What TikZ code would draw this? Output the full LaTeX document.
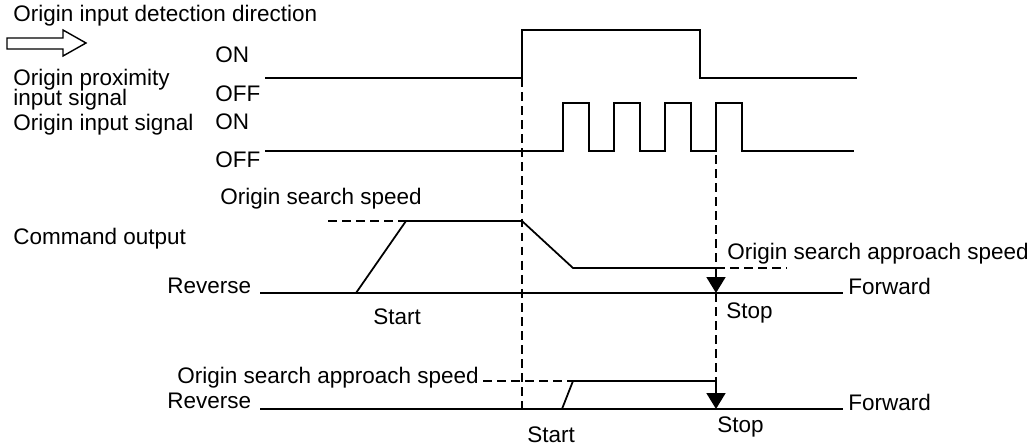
\documentclass[tikz,border=0pt]{standalone}
\usepackage{fontspec}
\setmainfont{Liberation Sans}
\usetikzlibrary{arrows.meta}

\begin{document}
\begin{tikzpicture}[
  x=0.02cm, y=-0.02cm,
  lbl/.style={font=\fontsize{12.8}{15}\selectfont, inner sep=0pt, anchor=base west},
  sig/.style={line width=1pt},
  guide/.style={line width=1pt, dash pattern=on 5pt off 3pt},
  stoparrow/.style={line width=1pt, -{Triangle[length=0.32cm,width=0.38cm]}}
]
  \useasboundingbox (0,0) rectangle (1036,446);

  % Detection direction
  \node[lbl] (dirlbl) at (13,22) {Origin input detection direction};
  \draw[line width=0.8pt] (7,38) -- (63,38) -- (63,30) -- (86,43) -- (63,56)
    -- (63,49) -- (7,49) -- cycle;

  % Origin proximity input signal
  \node[lbl] (proxA) at (13,86) {Origin proximity};
  \node[lbl] (proxB) at (13,106) {input signal};
  \node[lbl] (proxon) at (215,63) {ON};
  \node[lbl] (proxoff) at (215,102) {OFF};
  \coordinate (proxrise) at (522,78);
  \draw[sig] (265,78) -- (proxrise) -- (522,30) -- (700,30) -- (700,78) -- (857,78);

  % Origin input signal
  \node[lbl] (inlbl) at (13,131) {Origin input signal};
  \node[lbl] (inon) at (215,130) {ON};
  \node[lbl] (inoff) at (215,168) {OFF};
  \draw[sig] (265,151) foreach \x in {563,614,665,716} {
      -- (\x,151) -- (\x,103) -- (\x+26,103) -- (\x+26,151) } -- (854,151);

  % Command output
  \node[lbl] (cmdlbl) at (13,245) {Command output};
  \node[lbl] (speedlbl) at (220,205) {Origin search speed};
  \node[lbl] (rev1) at (167,294) {Reverse};
  \node[lbl] (fwd1) at (848,295) {Forward};
  \node[lbl] (start1) at (373,325) {Start};
  \node[lbl] (stop1) at (726,318) {Stop};
  \node[lbl] (apprlbl1) at (727,260) {Origin search approach speed};
  \coordinate (slowstart) at (716,268);
  \coordinate (stop1pt) at (716,293);
  \draw[sig] (260,293) -- (843,293);
  \draw[guide] (328,221) -- (406,221);
  \draw[sig] (356,293) -- (406,221) -- (522,221) -- (573,268) -- (slowstart);
  \draw[guide] (slowstart) -- (787,268);
  \draw[stoparrow] (slowstart) -- (stop1pt);

  % Second command output
  \node[lbl] (apprlbl2) at (177,383) {Origin search approach speed};
  \node[lbl] (rev2) at (167,408) {Reverse};
  \node[lbl] (fwd2) at (848,411) {Forward};
  \node[lbl] (start2) at (527,442) {Start};
  \node[lbl] (stop2) at (717,433) {Stop};
  \coordinate (appr2end) at (716,381);
  \coordinate (stop2pt) at (716,409);
  \draw[sig] (260,409) -- (843,409);
  \draw[guide] (483,381) -- (573,381);
  \draw[sig] (562,409) -- (573,381) -- (appr2end);
  \draw[stoparrow] (appr2end) -- (stop2pt);

  % Guide lines
  \draw[guide] (proxrise) -- (522,411);
  \draw[guide] (716,155) -- (slowstart);
  \draw[guide] (stop1pt) -- (appr2end);
\end{tikzpicture}
\end{document}
